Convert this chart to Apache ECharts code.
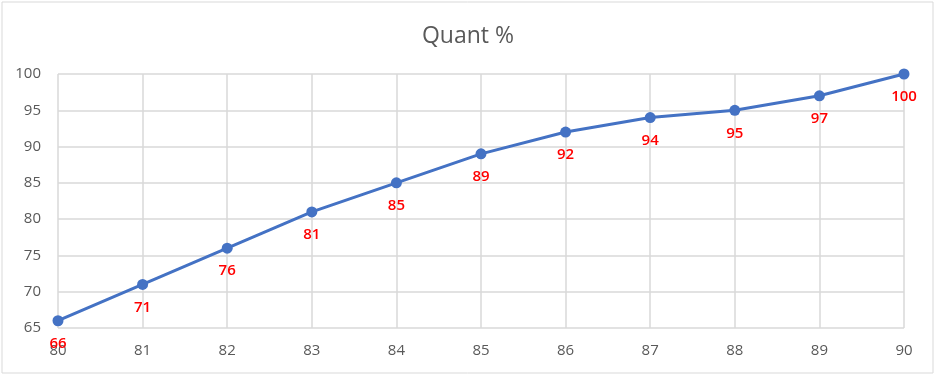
<!DOCTYPE html>
<html>
<head>
<meta charset="utf-8">
<script src="https://cdn.jsdelivr.net/npm/echarts@6/dist/echarts.min.js"></script>
<style>
  html, body { margin: 0; padding: 0; background: #fff; }
  #chart { width: 936px; height: 376px; }
</style>
</head>
<body>
<div id="chart"></div>
<script>
// values
const xValues = [80, 81, 82, 83, 84, 85, 86, 87, 88, 89, 90]
const quant = [66, 71, 76, 81, 85, 89, 92, 94, 95, 97, 100]

const chart = echarts.init(document.getElementById('chart'))
const gray = '#595959'
const option = {
  animation: false,
  title: {
    text: 'Quant %',
    left: 'center',
    top: 20,
    textStyle: { fontFamily: 'Open Sans', fontSize: 23, fontWeight: 'normal', color: gray }
  },
  graphic: [{
    type: 'rect',
    shape: { x: 2, y: 2, width: 931, height: 371 },
    style: { fill: 'none', stroke: '#d9d9d9', lineWidth: 1 },
    silent: true
  }],
  grid: { left: 58, right: 32, top: 74, bottom: 48 },
  xAxis: {
    type: 'value',
    min: 80,
    max: 90,
    interval: 1,
    axisLine: { show: false },
    axisTick: { show: false },
    axisLabel: { color: gray, fontSize: 15, fontFamily: 'Open Sans', margin: 15 },
    splitLine: { show: true, lineStyle: { color: '#d9d9d9', width: 1.5 } }
  },
  yAxis: {
    type: 'value',
    min: 65,
    max: 100,
    interval: 5,
    axisLine: { show: false },
    axisTick: { show: false },
    axisLabel: { color: gray, fontSize: 15, fontFamily: 'Open Sans', margin: 17 },
    splitLine: { show: true, lineStyle: { color: '#d9d9d9', width: 1.5 } }
  },
  series: [{
    type: 'line',
    data: xValues.map((x, i) => [x, quant[i]]),
    symbol: 'circle',
    symbolSize: 11,
    lineStyle: { color: '#4472c4', width: 3 },
    itemStyle: { color: '#4472c4' },
    label: {
      show: true,
      position: 'bottom',
      distance: 10,
      color: '#ff0000',
      fontSize: 15,
      fontWeight: 600,
      fontFamily: 'Open Sans',
      formatter: p => p.value[1]
    }
  }]
}
chart.setOption(option)
</script>
</body>
</html>
